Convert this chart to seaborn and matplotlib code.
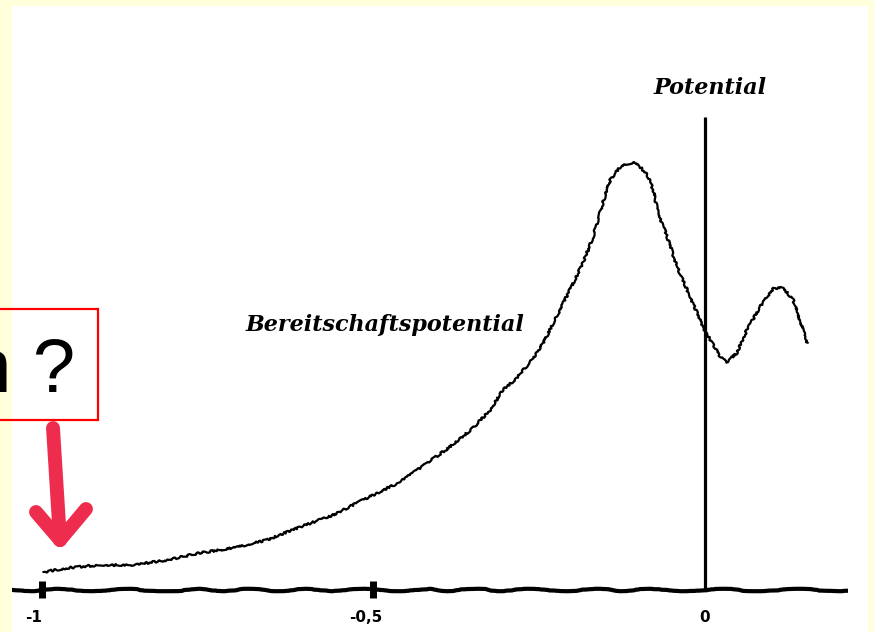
import numpy as np
import pandas as pd
import matplotlib
matplotlib.use("Agg")
import matplotlib.pyplot as plt
from matplotlib.patches import Rectangle
from matplotlib.lines import Line2D
import seaborn as sns

# Readiness potential: time relative to movement onset (s) and amplitude (a.u.)
time_s = [-0.998, -0.962, -0.913, -0.863, -0.811, -0.762, -0.712, -0.661, -0.611,
          -0.561, -0.516, -0.460, -0.419, -0.385, -0.350, -0.324, -0.305, -0.284,
          -0.259, -0.244, -0.234, -0.219, -0.204, -0.184, -0.169, -0.154, -0.143,
          -0.128, -0.113, -0.103, -0.087, -0.078, -0.072, -0.057, -0.042, -0.027,
          -0.012, -0.003, 0.008, 0.023, 0.033, 0.048, 0.063, 0.083, 0.103, 0.118,
          0.133, 0.143, 0.154]
amplitude = [1.8, 2.2, 2.5, 2.5, 3.0, 3.7, 4.2, 5.0, 6.3,
             7.5, 9.0, 10.8, 12.7, 14.3, 16.2, 18.0, 20.0, 21.2,
             23.2, 24.7, 26.0, 28.0, 30.0, 32.7, 35.3, 38.7, 41.0,
             42.3, 42.7, 42.7, 41.5, 40.0, 38.0, 35.3, 32.3, 30.0,
             27.7, 26.3, 25.0, 23.3, 22.8, 23.7, 26.0, 28.3, 30.2, 30.2,
             29.0, 27.0, 24.7]

tick_positions = [-1.0, -0.5, 0.0]
tick_labels = ["-1", "-0,5", "0"]
marker_positions = [-1.0, -0.5]

curve_label = "Bereitschaftspotential"
onset_label = "Potential"
question_text = "n ?"

df = pd.DataFrame({"t": time_s, "v": amplitude})

sns.set_style("white")
W, H = 874, 632
fig = plt.figure(figsize=(W / 100, H / 100), dpi=100, facecolor="#FFFFDC")

# white panel
left_px, right_px, top_px = 12, 868, 6
ax = fig.add_axes([left_px / W, 0, (right_px - left_px) / W, (H - top_px) / H])
ax.set_facecolor("white")
px_per_unit = 663.0
x0_px = 705.0
ax.set_xlim((left_px - x0_px) / px_per_unit, (right_px - x0_px) / px_per_unit)
ax.set_ylim((590 - H) / 10, (590 - top_px) / 10)
ax.set_axis_off()
ax.add_patch(Rectangle((0, 0), 1, 1, transform=ax.transAxes, facecolor="white",
                       edgecolor="none", zorder=0))

# hand-drawn look for the trace
sns.lineplot(data=df, x="t", y="v", ax=ax, color="black", linewidth=1.6,
             estimator=None, sort=False, zorder=3)
ax.lines[-1].set_sketch_params(scale=1.0, length=6, randomness=20)

# baseline
base, = ax.plot([(left_px - x0_px) / px_per_unit, (848 - x0_px) / px_per_unit], [0, 0],
                color="black", linewidth=3.0, solid_capstyle="butt", zorder=2)
base.set_sketch_params(scale=1.2, length=140, randomness=10)

# markers on the baseline
ax.vlines(marker_positions, -0.8, 0.9, color="black", linewidth=5, zorder=3)

# movement onset line
ax.vlines([0.0], 0, 47.3, color="black", linewidth=2.3, zorder=3)

# tick labels
for pos, lab in zip(tick_positions, tick_labels):
    dx = -0.012 if lab != "0" else 0.0
    ax.text(pos + dx, -2.7, lab, ha="center", va="center", fontsize=11,
            fontweight="bold", color="black", family="DejaVu Sans")

# annotations
ax.text(0.008, 50.2, onset_label, ha="center", va="center", fontsize=16,
        fontstyle="italic", fontweight="bold", family="DejaVu Serif", color="black")
ax.text(-0.483, 26.5, curve_label, ha="center", va="center", fontsize=16,
        fontstyle="italic", fontweight="bold", family="DejaVu Serif", color="black")

# question box
fig.patches.append(Rectangle((-5 / W, (H - 420) / H), 103 / W, 111 / H,
                             transform=fig.transFigure, fill=False,
                             edgecolor="#FF0000", linewidth=1.6))
fig.text(-31 / W, (H - 392) / H, question_text, ha="left", va="baseline",
         fontsize=55, family="Liberation Sans", color="black")

# red arrow
arrow_col = "#EE2D4E"
def fpt(x, y):
    return x / W, (H - y) / H
for (xa, ya), (xb, yb) in [((53, 428), (60, 540)), ((36, 512), (60, 540)), ((86, 509), (60, 540))]:
    (fx1, fy1), (fx2, fy2) = fpt(xa, ya), fpt(xb, yb)
    fig.lines.append(Line2D([fx1, fx2], [fy1, fy2], transform=fig.transFigure,
                            color=arrow_col, linewidth=10, solid_capstyle="round",
                            solid_joinstyle="round"))

fig.savefig("out.png", dpi=100, facecolor=fig.get_facecolor())
